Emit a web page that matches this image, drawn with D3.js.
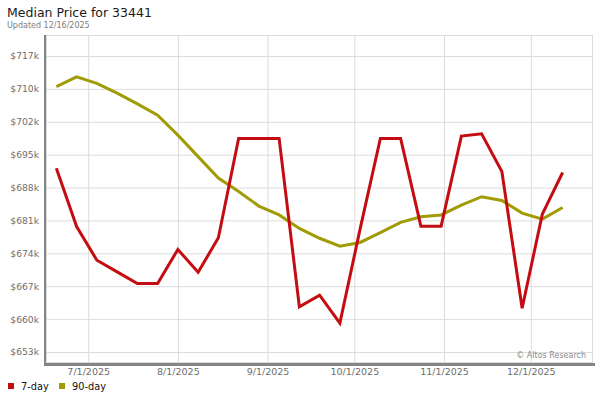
<!DOCTYPE html>
<html><head><meta charset="utf-8">
<script src="https://cdn.jsdelivr.net/npm/d3@7"></script>
<style>body{margin:0;background:#fff;}svg{display:block;font-family:"DejaVu Sans",sans-serif;}</style>
</head><body><svg id="c" width="600" height="400"></svg>
<script>
const dates = ["2025-06-20","2025-06-27","2025-07-04","2025-07-11","2025-07-18","2025-07-25","2025-08-01","2025-08-08","2025-08-15","2025-08-22","2025-08-29","2025-09-05","2025-09-12","2025-09-19","2025-09-26","2025-10-03","2025-10-10","2025-10-17","2025-10-24","2025-10-31","2025-11-07","2025-11-14","2025-11-21","2025-11-28","2025-12-05","2025-12-12"];
const sevenDay = [693.0,680.5,673.3,670.8,668.3,668.3,675.6,670.7,678.1,699.4,699.4,699.4,663.3,665.8,659.8,680.0,699.4,699.4,680.6,680.6,699.9,700.4,692.3,663.0,683.2,692.1];
const ninetyDay = [710.5,712.6,711.2,709.1,706.8,704.4,700.1,695.5,690.9,688.0,684.9,683.0,680.1,678.0,676.3,677.1,679.2,681.4,682.6,683.0,685.1,686.9,686.1,683.4,682.1,684.6];
const yTickValues = [653.62,660.67,667.72,674.77,681.82,688.87,695.92,702.97,710.02,717.07];
const yTickLabels = ["$653k","$660k","$667k","$674k","$681k","$688k","$695k","$702k","$710k","$717k"];
const xTickDates = ["2025-07-01","2025-08-01","2025-09-01","2025-10-01","2025-11-01","2025-12-01"];
const xTickLabels = ["7/1/2025","8/1/2025","9/1/2025","10/1/2025","11/1/2025","12/1/2025"];
const seriesNames = ["7-day","90-day"];
const seriesColors = ["#c40d12","#a19c05"];

const svg = d3.select("#c");
const L=46,R=593,T=35,B=363;
const parse = s => new Date(s+"T00:00:00Z");
const x = d3.scaleUtc().domain([new Date(Date.UTC(2025,5,16,10)), new Date(Date.UTC(2025,11,22,12))]).range([L,R]);
const y = d3.scaleLinear().domain([651.26,721.57]).range([B,T]);

// shadow bars
svg.append("rect").attr("x",44).attr("y",T).attr("width",3).attr("height",B-T+3).attr("fill","#858585");
svg.append("rect").attr("x",44).attr("y",B).attr("width",R-44+2).attr("height",3).attr("fill","#858585");
// frame
svg.append("rect").attr("x",L+0.5).attr("y",T+0.5).attr("width",R-L-1).attr("height",B-T-1).attr("fill","none").attr("stroke","#dcdcdc");

// grid
const gy = svg.append("g").attr("transform",`translate(${L},0)`)
  .call(d3.axisLeft(y).tickValues(yTickValues).tickSize(-(R-L)).tickFormat(""));
gy.select(".domain").remove();
gy.selectAll("line").attr("stroke","#dcdcdc");
const gx = svg.append("g").attr("transform",`translate(0,${T})`)
  .call(d3.axisBottom(x).tickValues(xTickDates.map(parse)).tickSize(B-T).tickFormat(""));
gx.select(".domain").remove();
gx.selectAll("line").attr("stroke","#dcdcdc");

// y labels
const ya = svg.append("g").attr("transform",`translate(39,0)`)
  .call(d3.axisLeft(y).tickValues(yTickValues).tickSize(0).tickPadding(0).tickFormat((d,i)=>yTickLabels[i]));
ya.select(".domain").remove();
ya.selectAll("text").attr("font-family","DejaVu Sans").attr("font-size","9.2px").attr("fill","#6e6e6e");

// x labels
const xa = svg.append("g").attr("transform",`translate(0,368)`)
  .call(d3.axisBottom(x).tickValues(xTickDates.map(parse)).tickSize(0).tickPadding(0).tickFormat((d,i)=>xTickLabels[i]));
xa.select(".domain").remove();
xa.selectAll("text").attr("font-family","DejaVu Sans").attr("font-size","9.5px").attr("fill","#6e6e6e").attr("dy","0.71em");

// lines
const line = d3.line().x((d,i)=>x(parse(dates[i]))).y(d=>y(d));
[ninetyDay, sevenDay].forEach((s,k)=>{
  const c = k===0?seriesColors[1]:seriesColors[0];
  svg.append("path").attr("d",line(s)).attr("fill","none").attr("stroke",c).attr("stroke-width",3).attr("stroke-linejoin","miter");
});

// watermark
svg.append("text").attr("x",586).attr("y",357.5).attr("text-anchor","end").attr("font-size","8px").attr("fill","#8a8a8a").text("© Altos Research");

// title
svg.append("text").attr("x",7).attr("y",17).attr("font-size","12.5px").attr("fill","#1a1a1a").text("Median Price for 33441");
svg.append("text").attr("x",7).attr("y",28).attr("font-size","8px").attr("fill","#808080").text("Updated 12/16/2025");

// legend
const lg = svg.append("g");
const lx=[8,59];
seriesNames.forEach((n,i)=>{
  lg.append("rect").attr("x",lx[i]).attr("y",383).attr("width",6).attr("height",6).attr("fill",seriesColors[i]);
  lg.append("text").attr("x",lx[i]+13).attr("y",389.5).attr("font-size","9.8px").attr("fill","#111").text(n);
});
</script></body></html>
